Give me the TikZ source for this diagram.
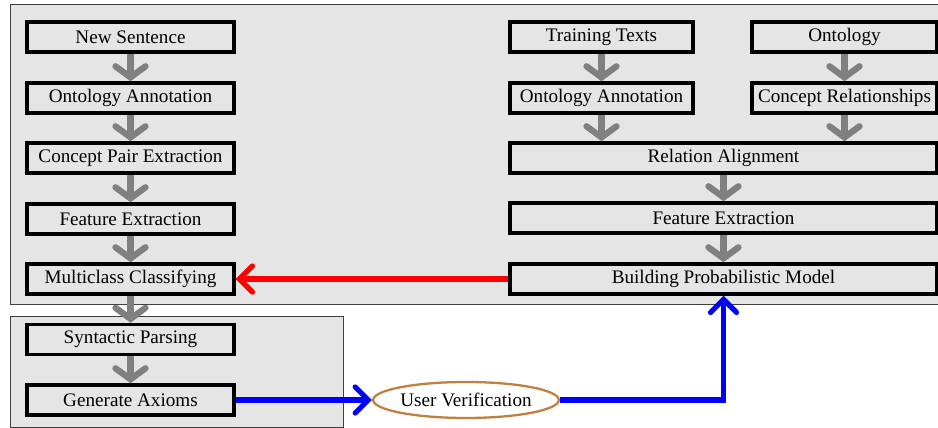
\documentclass[tikz,border=0pt]{standalone}
\usepackage{fontspec}
\setmainfont{Liberation Serif}
\usepackage{tikz}
\usetikzlibrary{arrows.meta}
\usetikzlibrary{shapes.geometric}

\definecolor{panelgray}{RGB}{229,229,229}
\definecolor{flowgray}{RGB}{128,128,128}
\definecolor{tan}{RGB}{192,128,64}

\tikzset{
  blk/.style={draw=black,line width=2pt,fill=panelgray,inner sep=0pt,minimum height=0.6cm},
  flow/.style={draw=flowgray,line width=3.6pt,-{Straight Barb[length=0.22cm,width=0.6cm,line cap=round]}},
  back/.style={line width=3pt,-{Straight Barb[length=0.26cm,width=0.52cm,line cap=round]}}
}

\begin{document}
\begin{tikzpicture}[x=0.02cm,y=-0.02cm]
            \fontsize{10.9}{13}\selectfont
            \useasboundingbox (0,0) rectangle (938,428);

            % the two shaded panels
            \filldraw[fill=panelgray,draw=black!75,thin] (10,4) rectangle (950,304);
            \filldraw[fill=panelgray,draw=black!75,thin] (10,316) rectangle (343,427);

            % left column
            \node[blk,minimum width=4.14cm] (ns) at (130.5,37) {New Sentence};
            \node[blk,minimum width=4.14cm] (oa) at (130.5,98) {Ontology Annotation};
            \node[blk,minimum width=4.14cm] (cpe) at (130.5,158) {Concept Pair Extraction};
            \node[blk,minimum width=4.14cm] (fe) at (130.5,219) {Feature Extraction};
            \node[blk,minimum width=4.14cm] (mc) at (130.5,279) {Multiclass Classifying};
            \node[blk,minimum width=4.14cm] (sp) at (130.5,339.5) {Syntactic Parsing};
            \node[blk,minimum width=4.14cm] (ga) at (130.5,400) {Generate Axioms};

            % right column
            \node[blk,minimum width=3.66cm] (tt) at (601.5,37) {Training Texts};
            \node[blk,minimum width=3.7cm] (onto) at (844.5,37) {Ontology};
            \node[blk,minimum width=3.66cm] (oa2) at (601.5,98) {Ontology Annotation};
            \node[blk,minimum width=3.7cm] (cr) at (844.5,98) {Concept Relationships};
            \node[blk,minimum width=8.54cm] (ra) at (723.5,158) {Relation Alignment};
            \node[blk,minimum width=8.54cm] (fe2) at (723.5,218) {Feature Extraction};
            \node[blk,minimum width=8.54cm] (bpm) at (723.5,279) {Building Probabilistic Model};

            \node[ellipse,draw=tan,line width=1.3pt,fill=white,minimum width=3.62cm,minimum height=0.72cm,inner sep=0pt] (uv) at (466,400) {User Verification};

            % gray flow arrows
            \draw[flow] (ns)--(oa);
            \draw[flow] (oa)--(cpe);
            \draw[flow] (cpe)--(fe);
            \draw[flow] (fe)--(mc);
            \draw[flow] (mc)--(sp);
            \draw[flow] (sp)--(ga);
            \draw[flow] (tt)--(oa2);
            \draw[flow] (onto)--(cr);
            \draw[flow] (oa2.south)--(oa2.south|-ra.north);
            \draw[flow] (cr.south)--(cr.south|-ra.north);
            \draw[flow] (ra)--(fe2);
            \draw[flow] (fe2)--(bpm);

            % feedback links
            \draw[back,red] (bpm.west)--(mc.east);
            \draw[back,blue] (ga.east)--(uv.west);
            \draw[back,blue] (uv.east)-|(bpm.south);

        \end{tikzpicture}
\end{document}
